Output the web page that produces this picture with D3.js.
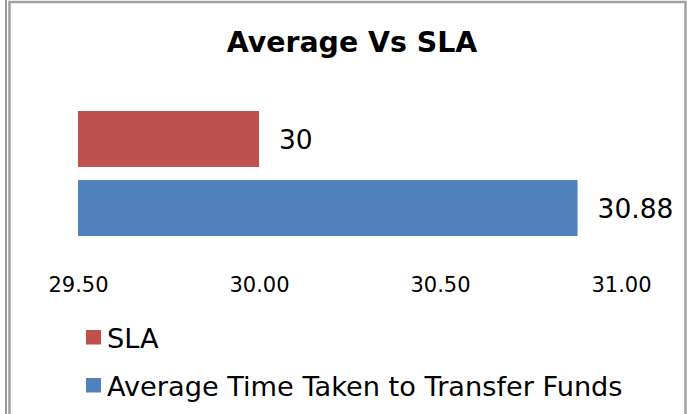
<!DOCTYPE html>
<html>
<head>
<meta charset="utf-8">
<script src="https://cdn.jsdelivr.net/npm/d3@7"></script>
<style>
  body { margin: 0; background: #fff; }
  svg { display: block; font-family: "DejaVu Sans", Verdana, sans-serif; }
</style>
</head>
<body>
<svg id="chart" width="687" height="414"></svg>
<script>
'use strict';
// chart data
var categories = ['SLA', 'Average Time Taken to Transfer Funds'];
var values = [30, 30.88];
var colors = ['#C0504D', '#4F81BD'];
var tickValues = [29.5, 30.0, 30.5, 31.0];

(function () {
  const width = 687, height = 414;
  const svg = d3.select('#chart');

  // outer frame lines
  svg.append('rect').attr('x', 5).attr('y', 0).attr('width', 2).attr('height', height).attr('fill', '#9a9a9a');
  svg.append('rect').attr('x', 9.5).attr('y', 2).attr('width', 676).attr('height', height + 10)
    .attr('fill', '#fff').attr('stroke', '#a0a0a0').attr('stroke-width', 2.5);

  svg.append('text')
    .attr('x', 352).attr('y', 51.5)
    .attr('text-anchor', 'middle')
    .style('font-size', '28.4px').style('font-weight', 'bold')
    .text('Average Vs SLA');

  const x = d3.scaleLinear().domain([29.5, 31.0]).range([78, 621]);
  const y = d3.scaleBand().domain(categories).range([111, 236]).paddingInner(0.19).paddingOuter(0);

  const data = categories.map((c, i) => ({ label: c, value: values[i], color: colors[i] }));

  svg.selectAll('rect.bar')
    .data(data)
    .enter()
    .append('rect')
    .attr('class', 'bar')
    .attr('x', x(29.5))
    .attr('y', d => y(d.label))
    .attr('width', d => x(d.value) - x(29.5))
    .attr('height', y.bandwidth())
    .attr('fill', d => d.color);

  svg.selectAll('text.val')
    .data(data)
    .enter()
    .append('text')
    .attr('class', 'val')
    .attr('x', d => x(d.value) + 20)
    .attr('y', d => y(d.label) + y.bandwidth() / 2)
    .attr('dy', '0.36em')
    .style('font-size', '26.5px')
    .text(d => d.value);

  const axis = d3.axisBottom(x).tickValues(tickValues).tickSize(0).tickPadding(0).tickFormat(d3.format('.2f'));
  const gx = svg.append('g').attr('transform', 'translate(0,291.5)').call(axis);
  gx.select('.domain').remove();
  gx.selectAll('text').attr('dy', 0).attr('fill', '#000').style('font-size', '21px')
    .style('font-family', '"DejaVu Sans", Verdana, sans-serif');

  const legend = svg.selectAll('g.leg')
    .data(data)
    .enter()
    .append('g')
    .attr('class', 'leg')
    .attr('transform', (d, i) => `translate(86, ${330 + i * 48})`);

  legend.append('rect').attr('width', 15).attr('height', 14.5).attr('fill', d => d.color);
  legend.append('text')
    .attr('x', 21).attr('y', 17.5)
    .style('font-size', '27.2px')
    .text(d => d.label);
})();
</script>
</body>
</html>
